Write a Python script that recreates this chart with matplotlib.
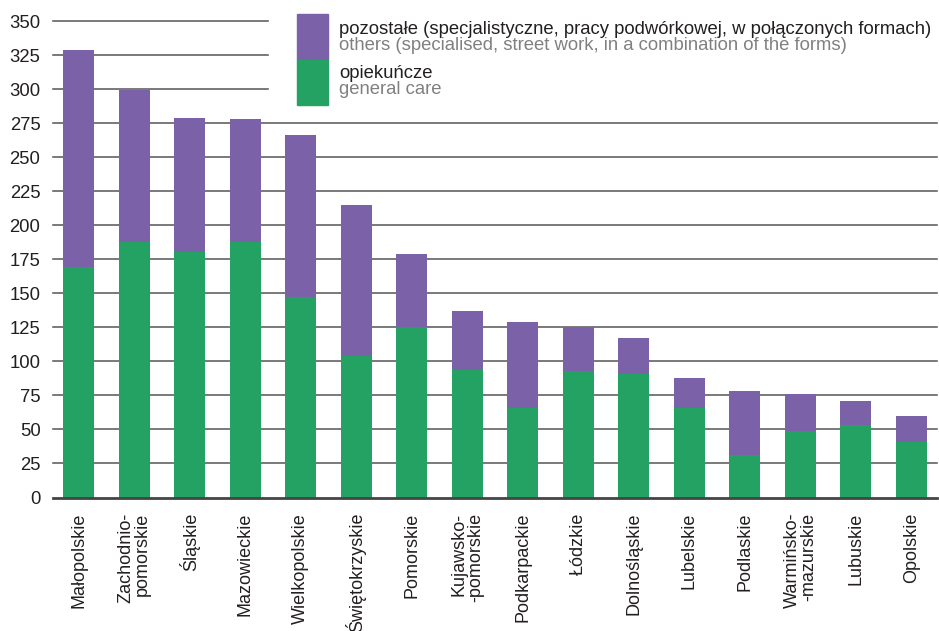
import matplotlib.pyplot as plt
from matplotlib.patches import Rectangle

plt.rcParams['font.family'] = ['Liberation Sans', 'DejaVu Sans']

regions = ['Małopolskie', 'Zachodnio-\npomorskie', 'Śląskie', 'Mazowieckie',
           'Wielkopolskie', 'Świętokrzyskie', 'Pomorskie', 'Kujawsko-\n-pomorskie',
           'Podkarpackie', 'Łódzkie', 'Dolnośląskie', 'Lubelskie', 'Podlaskie',
           'Warmińsko-\n-mazurskie', 'Lubuskie', 'Opolskie']
general_care = [169, 188, 180, 188, 147, 104, 125, 94, 66, 93, 91, 66, 31, 49, 53, 41]
totals = [329, 299, 279, 278, 266, 215, 179, 137, 129, 125, 117, 88, 78, 76, 71, 60]
others = [t - g for t, g in zip(totals, general_care)]
yticks = list(range(0, 351, 25))

purple = '#7B62A8'
green = '#23A263'
dark = '#231F20'

W, H = 939, 631
fig = plt.figure(figsize=(W / 100, H / 100), dpi=100)
ax = fig.add_axes([53 / W, 1 - 497.5 / H, 884 / W, 476.5 / H])

x = range(len(regions))
ax.bar(x, general_care, width=0.56, color=green, zorder=3)
ax.bar(x, others, bottom=general_care, width=0.56, color=purple, zorder=3)

# gridlines, the top ones stop before the legend
for y in yticks[1:]:
    xmax = 0.243 if y >= 300 else 1.0
    ax.axhline(y, xmin=0, xmax=xmax, color='#555555', lw=1.1, zorder=1, clip_on=False)
ax.axhline(0, color='#444444', lw=2, zorder=4, clip_on=False)

ax.set_xlim(-0.46, len(regions) - 0.54)
ax.set_ylim(0, 350)
ax.set_yticks(yticks)
ax.set_xticks(list(x))
ax.set_xticklabels(regions, rotation=90, fontsize=13, color=dark,
                   multialignment='right', linespacing=0.95)
ax.tick_params(axis='y', length=0, pad=9, labelsize=13.3, labelcolor=dark)
ax.tick_params(axis='x', length=0, pad=11)
for s in ax.spines.values():
    s.set_visible(False)

# legend
def fx(px):
    return px / W

def fy(py):
    return 1 - py / H

fig.patches.append(Rectangle((fx(297), fy(60)), 31 / W, 46 / H, color=purple,
                             transform=fig.transFigure, figure=fig))
fig.patches.append(Rectangle((fx(297), fy(105)), 31 / W, 45 / H, color=green,
                             transform=fig.transFigure, figure=fig))
fs = 13.3
fig.text(fx(339), fy(29), 'pozostałe (specjalistyczne, pracy podwórkowej, w połączonych formach)',
         fontsize=fs, color=dark, va='center')
fig.text(fx(339), fy(45), 'others (specialised, street work, in a combination of the forms)',
         fontsize=fs, color='#808080', va='center')
fig.text(fx(339), fy(73), 'opiekuńcze', fontsize=fs, color=dark, va='center')
fig.text(fx(339), fy(90), 'general care', fontsize=fs, color='#808080', va='center')

fig.savefig('out.png', dpi=100)
